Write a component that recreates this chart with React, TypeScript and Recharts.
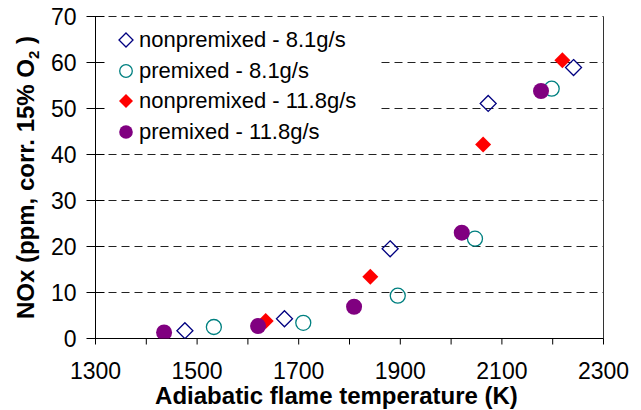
import {
  ScatterChart,
  Scatter,
  XAxis,
  YAxis,
  CartesianGrid,
  Legend,
  ReferenceLine,
  Label,
} from "recharts";

// values (K, ppm)
const NONPREMIXED_81 = [
  { x: 1476, y: 1.7 },
  { x: 1672, y: 4.3 },
  { x: 1880, y: 19.5 },
  { x: 2073, y: 51.1 },
  { x: 2241, y: 58.9 },
];
const PREMIXED_81 = [
  { x: 1533, y: 2.5 },
  { x: 1709, y: 3.4 },
  { x: 1895, y: 9.3 },
  { x: 2047, y: 21.7 },
  { x: 2198, y: 54.3 },
];
const NONPREMIXED_118 = [
  { x: 1635, y: 3.8 },
  { x: 1841, y: 13.4 },
  { x: 2063, y: 42.2 },
  { x: 2219, y: 60.5 },
];
const PREMIXED_118 = [
  { x: 1435, y: 1.3 },
  { x: 1620, y: 2.7 },
  { x: 1809, y: 6.9 },
  { x: 2021, y: 23.0 },
  { x: 2177, y: 53.8 },
];

const X_TICKS = [1300, 1400, 1500, 1600, 1700, 1800, 1900, 2000, 2100, 2200, 2300];
const Y_TICKS = [0, 10, 20, 30, 40, 50, 60, 70];

const FONT = "'Liberation Sans', Arial, sans-serif";

const SERIES = [
  { name: "nonpremixed - 8.1g/s", data: NONPREMIXED_81, shape: "diamond", color: "#000080", filled: false },
  { name: "premixed - 8.1g/s", data: PREMIXED_81, shape: "circle", color: "#008080", filled: false },
  { name: "nonpremixed - 11.8g/s", data: NONPREMIXED_118, shape: "diamond", color: "#ff0000", filled: true },
  { name: "premixed - 11.8g/s", data: PREMIXED_118, shape: "circle", color: "#800080", filled: true },
] as const;

type MarkerProps = {
  cx: number;
  cy: number;
  r: number;
  shape: string;
  color: string;
  filled: boolean;
};

function Marker({ cx, cy, r, shape, color, filled }: MarkerProps) {
  const fill = filled ? color : "none";
  const stroke = filled ? "none" : color;
  if (shape === "diamond") {
    return (
      <path
        d={`M${cx} ${cy - r} L${cx + r} ${cy} L${cx} ${cy + r} L${cx - r} ${cy} Z`}
        fill={fill}
        stroke={stroke}
        strokeWidth={1.3}
      />
    );
  }
  return (
    <circle
      cx={cx}
      cy={cy}
      r={filled ? r : r - 0.5}
      fill={fill}
      stroke={stroke}
      strokeWidth={1.3}
    />
  );
}

function YTick({ x, y, payload }: any) {
  return (
    <g>
      <line x1={x - 9} x2={x + 9} y1={y} y2={y} stroke="#000" />
      <text
        x={x - 19}
        y={y}
        dy="0.36em"
        textAnchor="end"
        fontSize={23}
        fontFamily={FONT}
        fill="#000"
      >
        {payload.value}
      </text>
    </g>
  );
}

function XTick({ x, y, payload }: any) {
  if ((payload.value - 1300) % 200 !== 0) return <g />;
  return (
    <text
      x={x}
      y={y}
      dy="0.71em"
      textAnchor="middle"
      fontSize={23}
      fontFamily={FONT}
      fill="#000"
    >
      {payload.value}
    </text>
  );
}

function YTitle({ viewBox }: any) {
  const cx = viewBox.x + 33;
  const cy = viewBox.y + viewBox.height / 2;
  return (
    <text
      x={cx}
      y={cy}
      transform={`rotate(-90 ${cx} ${cy})`}
      textAnchor="middle"
      fontSize={24}
      fontWeight="bold"
      fontFamily={FONT}
      fill="#000"
    >
      NOx (ppm, corr. 15% O
      <tspan fontSize={15} dy={5}>
        2
      </tspan>
      <tspan dy={-5}> )</tspan>
    </text>
  );
}

function XTitle({ viewBox }: any) {
  return (
    <text
      x={viewBox.x + viewBox.width / 2 - 13}
      y={viewBox.y + 65.5}
      textAnchor="middle"
      fontSize={24}
      fontWeight="bold"
      fontFamily={FONT}
      fill="#000"
    >
      Adiabatic flame temperature (K)
    </text>
  );
}

function LegendBox() {
  return (
    <div
      style={{
        background: "#fff",
        width: 272,
        padding: "1px 0",
        fontFamily: FONT,
        fontSize: 22,
        color: "#000",
      }}
    >
      {SERIES.map((s) => (
        <div key={s.name} style={{ display: "flex", alignItems: "center", height: 30.5 }}>
          <svg width={34} height={30} style={{ flex: "none" }}>
            <Marker cx={21} cy={15} r={s.shape === "diamond" ? 7 : 6.8} shape={s.shape} color={s.color} filled={s.filled} />
          </svg>
          <span style={{ whiteSpace: "nowrap" }}>{s.name}</span>
        </div>
      ))}
    </div>
  );
}

export default function App() {
  return (
    <div style={{ position: "absolute", left: 0, top: 0, background: "#fff" }}>
      <ScatterChart
        width={641}
        height={410}
        margin={{ top: 16.5, right: 37.5, bottom: 0, left: 0.5 }}
      >
        <CartesianGrid
          horizontal
          vertical={false}
          stroke="#222"
          strokeDasharray="8 5"
        />
        <XAxis
          type="number"
          dataKey="x"
          domain={[1300, 2300]}
          ticks={X_TICKS}
          interval={0}
          allowDataOverflow
          height={71.5}
          axisLine={{ stroke: "#000" }}
          tickLine={{ stroke: "#000" }}
          tickSize={6}
          tickMargin={18}
          tick={<XTick />}
        >
          <Label content={XTitle} />
        </XAxis>
        <YAxis
          type="number"
          dataKey="y"
          domain={[0, 70]}
          ticks={Y_TICKS}
          interval={0}
          allowDataOverflow
          width={95}
          axisLine={{ stroke: "#000" }}
          tickLine={false}
          tickSize={0}
          tickMargin={0}
          tick={<YTick />}
        >
          <Label content={YTitle} />
        </YAxis>
        <ReferenceLine x={2300} stroke="#333" />
        <Legend
          layout="vertical"
          align="center"
          verticalAlign="middle"
          content={<LegendBox />}
          wrapperStyle={{ top: 24, left: 105, width: 272, height: "auto" }}
        />
        {SERIES.map((s) => (
          <Scatter
            key={s.name}
            name={s.name}
            data={s.data as any}
            fill={s.color}
            isAnimationActive={false}
            shape={(p: any) => (
              <Marker cx={p.cx} cy={p.cy} r={8} shape={s.shape} color={s.color} filled={s.filled} />
            )}
          />
        ))}
      </ScatterChart>
    </div>
  );
}
